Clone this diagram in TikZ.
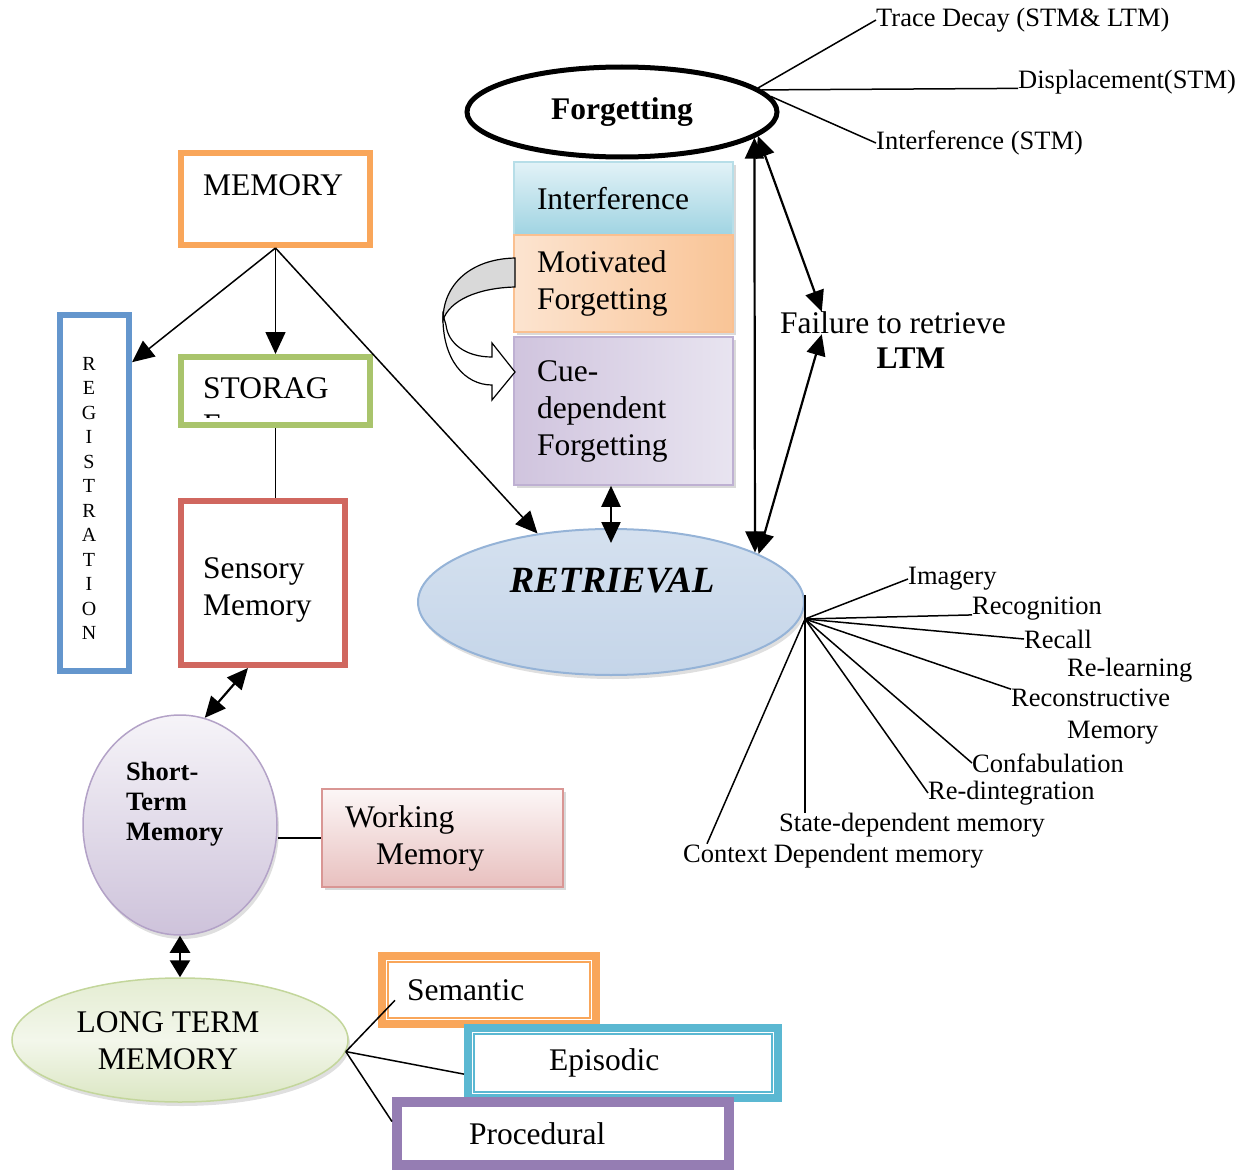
\documentclass[tikz,border=0pt]{standalone}
\usepackage{fontspec}
\setmainfont{Liberation Serif}
\usetikzlibrary{arrows.meta,shapes.geometric,shadows}

\definecolor{cmem}{RGB}{249,166,90}
\definecolor{creg}{RGB}{100,150,205}
\definecolor{cstor}{RGB}{169,196,108}
\definecolor{csens}{RGB}{208,103,95}
\definecolor{cepi}{RGB}{91,184,210}
\definecolor{cproc}{RGB}{149,125,179}
\definecolor{cstmb}{RGB}{179,162,199}
\definecolor{cltmb}{RGB}{195,214,155}
\definecolor{cretb}{RGB}{149,179,215}
\definecolor{cworkb}{RGB}{217,150,148}
\definecolor{cintb}{RGB}{183,222,232}
\definecolor{cintlt}{RGB}{226,242,247}
\definecolor{cintdk}{RGB}{160,212,226}
\definecolor{cmotb}{RGB}{250,192,144}
\definecolor{cmotlt}{RGB}{252,228,208}
\definecolor{cmotdk}{RGB}{249,196,150}
\definecolor{ccueb}{RGB}{190,176,210}
\definecolor{ccuelt}{RGB}{232,228,240}
\definecolor{ccuedk}{RGB}{208,196,222}

\newcommand{\fsbig}{\fontsize{31.5}{37}\selectfont}
\newcommand{\fssmall}{\fontsize{26.5}{32}\selectfont}
\newcommand{\fsstm}{\fontsize{26.5}{30}\selectfont\bfseries}
\newcommand{\fsreg}{\fontsize{20}{24.5}\selectfont}
\newcommand{\fsret}{\fontsize{37}{44}\selectfont\bfseries\itshape}

\begin{document}
\begin{tikzpicture}[x=1pt,y=-1pt]
    \tikzset{txt/.style={inner sep=0pt, font=\fsbig},
             lbl/.style={inner sep=0pt, font=\fssmall, anchor=west},
             framebox/.style={rectangle, draw=#1, line width=6pt, fill=white, inner sep=0pt},
             dblbox/.style={rectangle, draw=#1, line width=8pt, fill=white, inner sep=2pt, align=left, font=\fsbig},
             stackbox/.style={rectangle, draw=#1, line width=1.5pt, minimum width=219pt, text width=173pt,
                              align=left, font=\fsbig, drop shadow={opacity=0.3, shadow xshift=3pt, shadow yshift=-3pt}},
             softshadow/.style={drop shadow={opacity=0.25, shadow xshift=2pt, shadow yshift=-4pt}},
             conn/.style={line width=1.5pt},
             fanline/.style={line width=1.5pt},
             arr/.style={line width=1.5pt, -{Triangle[length=22pt,width=20pt]}},
             dbl/.style={line width=2.2pt, {Triangle[length=21pt,width=19pt]}-{Triangle[length=21pt,width=19pt]}},
             dblshort/.style={line width=2.5pt, {Triangle[length=17pt,width=20pt]}-{Triangle[length=17pt,width=20pt]}}}
    \useasboundingbox (0,0) rectangle (1243,1172);

    \node[framebox=cmem, minimum width=189pt, minimum height=92pt] (mem) at (275.5,199) {};
    \node[txt, anchor=west] (memtxt) at (203,185) {MEMORY};
    \node[framebox=creg, minimum width=69pt, minimum height=356pt] (reg) at (94.5,493) {};
    \node[inner sep=0pt, font=\fsreg, align=center] (regtxt) at (89,498.5) {R\\E\\G\\I\\S\\T\\R\\A\\T\\I\\O\\N};
    \node[framebox=cstor, minimum width=189pt, minimum height=68pt] (stor) at (275.5,391) {};
    \node[txt, anchor=base west] (stortxt) at (203,398) {STORAG};
    \begin{scope}
        \clip (181,360) rectangle (370,417);
        \node[txt, anchor=base west] (storcut) at (203,435) {E};
    \end{scope}
    \node[framebox=csens, minimum width=164pt, minimum height=164pt] (sens) at (263,583) {};
    \node[txt, align=left, anchor=west] (senstxt) at (203,590) {Sensory\\Memory};

    \node[ellipse, draw=cstmb, line width=1.5pt, top color=white!60!cstmb!30, bottom color=cstmb!65,
          minimum width=194pt, minimum height=220pt, softshadow] (stm) at (180,825) {};
    \node[inner sep=0pt, font=\fsstm, align=left, anchor=west] (stmtxt) at (126,804) {Short-\\Term\\Memory};
    \node[rectangle, draw=cworkb, line width=2pt, top color=cworkb!8, bottom color=cworkb!60,
          minimum width=241pt, minimum height=98pt, text width=195pt, align=left, font=\fsbig,
          drop shadow={opacity=0.3, shadow xshift=3pt, shadow yshift=-3pt}] (work) at (442.5,838) {Working\\\hspace*{31pt}Memory};
    \node[ellipse, draw=cltmb, line width=1.5pt, top color=cltmb!45, bottom color=cltmb!60, middle color=cltmb!20,
          minimum width=336pt, minimum height=124pt, softshadow] (ltm) at (180,1040) {};
    \node[txt, align=center] (ltmtxt) at (168,1041) {LONG TERM\\MEMORY};

    \node[dblbox=cmem, minimum width=214pt, minimum height=68pt, text width=164pt] (sem) at (489,990) {Semantic};
    \draw[cmem, line width=1.5pt] ([shift={(10,10)}]sem.north west) rectangle ([shift={(-10,-10)}]sem.south east);
    \node[dblbox=cepi, minimum width=310pt, minimum height=70pt, text width=148pt] (epi) at (623,1063) {Episodic};
    \draw[cepi, line width=1.5pt] ([shift={(10,10)}]epi.north west) rectangle ([shift={(-10,-10)}]epi.south east);
    \node[dblbox=cproc, minimum width=334pt, minimum height=65pt, text width=188pt] (proc) at (563,1133.5) {Procedural};
    \draw[cproc, line width=1.5pt] ([shift={(9,9)}]proc.north west) rectangle ([shift={(-9,-9)}]proc.south east);

    \node[ellipse, draw, line width=5pt, fill=white, minimum width=310pt, minimum height=90pt, inner sep=0pt,
          font=\fsbig\bfseries] (forg) at (622,112) {Forgetting};
    \node[stackbox=cintb, top color=cintlt, bottom color=cintdk, minimum height=73pt] (intf) at (623.5,198.5) {Interference};
    \node[stackbox=cmotb, left color=cmotlt, right color=cmotdk, minimum height=97pt] (motiv) at (623.5,283.5) {Motivated\\Forgetting};
    \node[stackbox=ccueb, left color=ccuedk, right color=ccuelt, minimum height=148pt] (cue) at (623.5,411) {Cue-\\dependent\\Forgetting};
    \draw[line width=1.2pt, fill=gray!30] (515,258) .. controls (470,259) and (443,285) .. (443,320)
          .. controls (450,300) and (478,288) .. (515,287) -- cycle;
    \draw[line width=1.2pt, fill=white] (443,315) .. controls (442,360) and (465,385) .. (492,385) -- (492,400)
          -- (515,372) -- (492,343) -- (492,357) .. controls (465,357) and (448,343) .. (446,325) -- cycle;

    \node[txt, anchor=west] (fail) at (780,323) {Failure to retrieve};
    \node[txt, font=\fsbig\bfseries] (ltmlbl) at (911,358) {LTM};

    \node[ellipse, draw=cretb, line width=2pt, top color=cretb!40, middle color=cretb!15, bottom color=cretb!55,
          minimum width=386pt, minimum height=146pt, softshadow] (ret) at (611,602) {};
    \node[txt, font=\fsret] (rettxt) at (612,581) {RETRIEVAL};

    \node[lbl] (trace) at (876,20) {Trace Decay (STM\& LTM)};
    \node[lbl] (disp) at (1018,82) {Displacement(STM)};
    \node[lbl] (intstm) at (876,143) {Interference (STM)};

    \node[lbl] (imag) at (908,579) {Imagery};
    \node[lbl] (recog) at (972,609) {Recognition};
    \node[lbl] (recall) at (1024,639) {Recall};
    \node[lbl] (relearn) at (1067,670) {Re-learning};
    \node[lbl, align=left] (recon) at (1011,717) {Reconstructive\\\hspace*{56pt}Memory};
    \node[lbl] (confab) at (972,763) {Confabulation};
    \node[lbl] (redint) at (928,793) {Re-dintegration};
    \node[lbl] (state) at (779,825) {State-dependent memory};
    \node[lbl] (context) at (683,856) {Context Dependent memory};

    \draw[arr] (mem.south) -- (reg.74);
    \draw[arr] (mem.south) -- (stor.north);
    \draw[arr] (mem.south) -- (ret.137);
    \draw[conn] (stor.south) -- (stor.south |- sens.north);
    \draw[dbl] (sens.260) -- (stm.77);
    \draw[dblshort] (stm.south) -- (ltm.north);
    \draw[conn] (work.west -| stm.east) -- (work.west);
    \draw[conn] (ltm.356) -- ([xshift=-12pt]sem.text);
    \draw[conn] (ltm.356) -- (epi.184);
    \draw[conn] (ltm.356) -- (proc.176);

    \draw[conn] (forg.10) -- (trace.west);
    \draw[conn] (forg.9) -- (disp.base west);
    \draw[conn] (forg.6) -- (intstm.west);
    \draw[dbl] (forg.349) -- (ret.19);
    \draw[dbl] (forg.350) -- (fail.171);
    \draw[dbl] (fail.189) -- (ret.18);
    \draw[dbl] (cue.south -| ret.north) -- ([yshift=-15pt]ret.north);

    \coordinate (fan) at ([yshift=-17pt]ret.east);
    \draw[fanline] (fan) -- (imag.west);
    \draw[fanline] (fan) -- (recog.base west);
    \draw[fanline] (fan) -- (recall.west);
    \draw[fanline] (fan) -- (recon.north west);
    \draw[fanline] (fan) -- (confab.west);
    \draw[fanline] (fan) -- (redint.west);
    \draw[fanline] ([yshift=24pt]fan) -- (fan |- state.north);
    \draw[fanline] (fan) -- ([xshift=24pt]context.north west);

\end{tikzpicture}
\end{document}
